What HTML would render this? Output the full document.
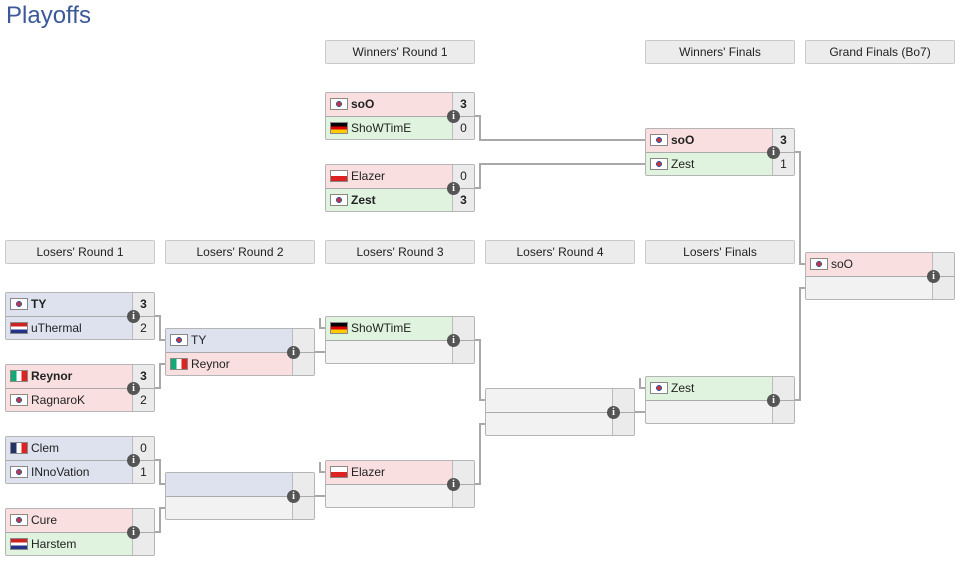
<!DOCTYPE html>
<html><head><meta charset="utf-8"><style>
body{margin:0;width:969px;height:565px;background:#fff;position:relative;font-family:"Liberation Sans","DejaVu Sans",sans-serif;overflow:hidden}
.t{position:absolute;left:6px;top:2px;font-size:24px;color:#3b5998}
.h{position:absolute;width:148px;height:22px;border:1px solid #c8c8c8;border-radius:2px;background:#ececec;font-size:12px;text-align:center;line-height:22px;color:#222}
.m{position:absolute;width:148px;height:46px;border:1px solid #b5b5b5;border-radius:2px;background:#f2f2f2;overflow:hidden}
.r{position:absolute;left:0;width:148px;height:23px}
.r.a{top:0;border-bottom:1px solid #aaa}.r.b{top:24px}
.n{position:absolute;left:0;top:0;width:126px;height:100%;font-size:12px;line-height:23px;color:#222}
.s{position:absolute;left:126px;top:0;width:21px;height:100%;border-left:1px solid #bbb;background:#ebebeb;font-size:12px;line-height:23px;text-align:center;color:#222}
.R .n{background:#f9dfdf}.G .n{background:#dff3df}.B .n{background:#dee2ef}
.f{display:inline-block;width:18px;height:12px;vertical-align:-2px;margin:0 3px 0 4px;border:1px solid #888;box-sizing:border-box}
.kr{background:radial-gradient(circle at 50% 50%,#c33 0 2px,#35a 2px 3px,#fff 3px)}
.de{background:linear-gradient(#000 33%,#d00 33% 66%,#fc0 66%)}
.pl{background:linear-gradient(#fff 50%,#d22 50%)}
.nl{background:linear-gradient(#c22 33%,#fff 33% 66%,#238 66%)}
.it{background:linear-gradient(90deg,#1a7 33%,#fff 33% 66%,#d22 66%)}
.fr{background:linear-gradient(90deg,#236 33%,#fff 33% 66%,#d22 66%)}
.w{font-weight:bold}
.i{position:absolute;width:13px;height:13px;border-radius:50%;background:#555;color:#fff;font-size:10px;font-weight:bold;line-height:13px;text-align:center;font-family:"Liberation Serif",serif}
svg{position:absolute;left:0;top:0}
</style></head><body>
<div class="t">Playoffs</div>
<svg width="969" height="565"><g stroke="#a8a8a8" stroke-width="2" fill="none">
<path d="M475 116H480V140H645M475 188H480V164H645"/>
<path d="M795 152H800V264H805M795 400H800V288H805"/>
<path d="M155 316H160V340H165M155 388H160V364H165M155 460H160V484H165M155 532H160V508H165"/>
<path d="M315 352H325M320 318V328H325M315 496H325M320 462V472H325"/>
<path d="M475 340H480V400H485M475 484H480V424H485"/>
<path d="M635 412H645M640 378V388H645"/>
</g></svg>
<div class="h" style="left:325px;top:40px">Winners' Round 1</div>
<div class="h" style="left:645px;top:40px">Winners' Finals</div>
<div class="h" style="left:805px;top:40px">Grand Finals (Bo7)</div>
<div class="h" style="left:5px;top:240px">Losers' Round 1</div>
<div class="h" style="left:165px;top:240px">Losers' Round 2</div>
<div class="h" style="left:325px;top:240px">Losers' Round 3</div>
<div class="h" style="left:485px;top:240px">Losers' Round 4</div>
<div class="h" style="left:645px;top:240px">Losers' Finals</div>

<div class="m" style="left:325px;top:92px"><div class="r a R"><div class="n w"><span class="f kr"></span>soO</div><div class="s w">3</div></div><div class="r b G"><div class="n"><span class="f de"></span>ShoWTimE</div><div class="s">0</div></div></div>
<div class="m" style="left:325px;top:164px"><div class="r a R"><div class="n"><span class="f pl"></span>Elazer</div><div class="s">0</div></div><div class="r b G"><div class="n w"><span class="f kr"></span>Zest</div><div class="s w">3</div></div></div>
<div class="m" style="left:645px;top:128px"><div class="r a R"><div class="n w"><span class="f kr"></span>soO</div><div class="s w">3</div></div><div class="r b G"><div class="n"><span class="f kr"></span>Zest</div><div class="s">1</div></div></div>
<div class="m" style="left:805px;top:252px"><div class="r a R"><div class="n"><span class="f kr"></span>soO</div><div class="s"></div></div><div class="r b"><div class="n"></div><div class="s"></div></div></div>

<div class="m" style="left:5px;top:292px"><div class="r a B"><div class="n w"><span class="f kr"></span>TY</div><div class="s w">3</div></div><div class="r b B"><div class="n"><span class="f nl"></span>uThermal</div><div class="s">2</div></div></div>
<div class="m" style="left:5px;top:364px"><div class="r a R"><div class="n w"><span class="f it"></span>Reynor</div><div class="s w">3</div></div><div class="r b R"><div class="n"><span class="f kr"></span>RagnaroK</div><div class="s">2</div></div></div>
<div class="m" style="left:5px;top:436px"><div class="r a B"><div class="n"><span class="f fr"></span>Clem</div><div class="s">0</div></div><div class="r b B"><div class="n"><span class="f kr"></span>INnoVation</div><div class="s">1</div></div></div>
<div class="m" style="left:5px;top:508px"><div class="r a R"><div class="n"><span class="f kr"></span>Cure</div><div class="s"></div></div><div class="r b G"><div class="n"><span class="f nl"></span>Harstem</div><div class="s"></div></div></div>

<div class="m" style="left:165px;top:328px"><div class="r a B"><div class="n"><span class="f kr"></span>TY</div><div class="s"></div></div><div class="r b R"><div class="n"><span class="f it"></span>Reynor</div><div class="s"></div></div></div>
<div class="m" style="left:165px;top:472px"><div class="r a B"><div class="n"></div><div class="s"></div></div><div class="r b"><div class="n"></div><div class="s"></div></div></div>

<div class="m" style="left:325px;top:316px"><div class="r a G"><div class="n"><span class="f de"></span>ShoWTimE</div><div class="s"></div></div><div class="r b"><div class="n"></div><div class="s"></div></div></div>
<div class="m" style="left:325px;top:460px"><div class="r a R"><div class="n"><span class="f pl"></span>Elazer</div><div class="s"></div></div><div class="r b"><div class="n"></div><div class="s"></div></div></div>
<div class="m" style="left:485px;top:388px"><div class="r a"><div class="n"></div><div class="s"></div></div><div class="r b"><div class="n"></div><div class="s"></div></div></div>
<div class="m" style="left:645px;top:376px"><div class="r a G"><div class="n"><span class="f kr"></span>Zest</div><div class="s"></div></div><div class="r b"><div class="n"></div><div class="s"></div></div></div>

<div class="i" style="left:447px;top:110px">i</div>
<div class="i" style="left:447px;top:182px">i</div>
<div class="i" style="left:767px;top:146px">i</div>
<div class="i" style="left:927px;top:270px">i</div>
<div class="i" style="left:127px;top:310px">i</div>
<div class="i" style="left:127px;top:382px">i</div>
<div class="i" style="left:127px;top:454px">i</div>
<div class="i" style="left:127px;top:526px">i</div>
<div class="i" style="left:287px;top:346px">i</div>
<div class="i" style="left:287px;top:490px">i</div>
<div class="i" style="left:447px;top:334px">i</div>
<div class="i" style="left:447px;top:478px">i</div>
<div class="i" style="left:607px;top:406px">i</div>
<div class="i" style="left:767px;top:394px">i</div>
</body></html>
